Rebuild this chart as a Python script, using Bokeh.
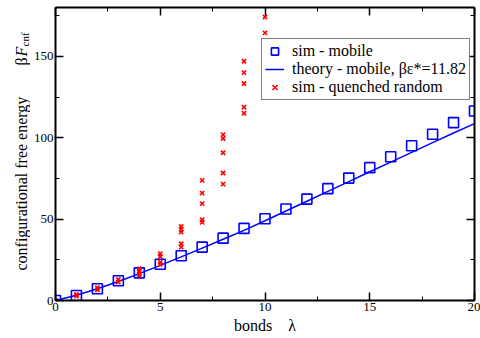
import math
from bokeh.plotting import figure
from bokeh.layouts import row
from bokeh.models import (Range1d, LinearAxis, SingleIntervalTicker, Legend,
                          LegendItem)
from bokeh.core.properties import value
from bokeh.embed import file_html
from bokeh.resources import INLINE

# ---- data ----
bonds = list(range(21))
sim_mobile = [0, 3.1, 7.2, 12.1, 17.0, 22.3, 27.5, 32.8, 38.3, 44.3, 50.2,
              56.2, 62.3, 68.7, 75.2, 81.6, 88.3, 95.1, 102.1, 109.3, 116.4]
theory_mobile = [0, 3.2, 7.2, 11.7, 16.5, 21.6, 26.8, 32.2, 37.6, 43.1, 49.0,
                 55.0, 61.0, 67.0, 73.0, 79.1, 85.0, 91.0, 97.0, 102.9, 108.7]
quenched_bonds = [0, 1, 1, 2, 2, 3, 3, 4, 4, 4, 4, 5, 5, 5, 5,
                  6, 6, 6, 6, 6, 7, 7, 7, 7, 7, 8, 8, 8, 8, 8,
                  9, 9, 9, 9, 9, 10, 10]
quenched_energy = [0, 3.7, 2.7, 7.8, 6.6, 12.9, 11.3, 19.5, 18.0, 16.4, 15.4,
                   28.7, 27.0, 23.6, 22.1,
                   45.5, 43.7, 42.0, 34.9, 32.8,
                   73.8, 66.0, 59.5, 49.6, 48.0,
                   101.9, 99.5, 90.8, 78.3, 71.5,
                   147.0, 140.0, 133.3, 118.7, 115.0,
                   174.2, 164.4]

x_ticks_interval = 5
y_ticks_interval = 50

FONT = "Liberation Serif"
H = 338
LEFT_W = 30

# ---------------- main plot ----------------
p = figure(frame_width=419, frame_height=293, output_backend="svg",
           toolbar_location=None, x_range=Range1d(0, 20), y_range=Range1d(0, 180),
           min_border_left=54 - LEFT_W, min_border_right=6, min_border_top=7,
           min_border_bottom=38)
p.background_fill_color = "white"
p.border_fill_color = "white"
p.outline_line_color = None
p.xgrid.visible = False
p.ygrid.visible = False


def style_axis(ax, ticker, labels=True):
    ax.ticker = ticker
    ax.axis_line_width = 2
    ax.axis_line_color = "black"
    ax.major_tick_in = 8
    ax.major_tick_out = 0
    ax.minor_tick_in = 4
    ax.minor_tick_out = 0
    ax.major_tick_line_width = 1.5
    ax.minor_tick_line_width = 1
    ax.major_label_text_font = FONT
    if labels:
        ax.major_label_text_color = "black"
        ax.major_label_text_font_size = "13px"
        ax.major_label_standoff = 2
    else:
        ax.major_label_text_color = None
        ax.major_label_text_font_size = "1px"
        ax.major_label_standoff = 0


style_axis(p.xaxis[0], SingleIntervalTicker(interval=x_ticks_interval, num_minor_ticks=2))
style_axis(p.yaxis[0], SingleIntervalTicker(interval=y_ticks_interval, num_minor_ticks=2))
p.xaxis[0].axis_label = "bonds\u00a0\u00a0\u00a0\u00a0λ"
p.xaxis[0].axis_label_text_font = FONT
p.xaxis[0].axis_label_text_font_style = "normal"
p.xaxis[0].axis_label_text_color = "black"
p.xaxis[0].axis_label_text_font_size = "16px"
p.xaxis[0].axis_label_standoff = 3

top_ax = LinearAxis()
right_ax = LinearAxis()
style_axis(top_ax, SingleIntervalTicker(interval=x_ticks_interval, num_minor_ticks=2), labels=False)
style_axis(right_ax, SingleIntervalTicker(interval=y_ticks_interval, num_minor_ticks=2), labels=False)
p.add_layout(top_ax, "above")
p.add_layout(right_ax, "right")

r_line = p.line(bonds, theory_mobile, line_color="#0000ff", line_width=1.5)
r_sq = p.scatter(bonds, sim_mobile, marker="square", size=10, fill_color=None,
                 line_color="#0000ff", line_width=1.6)
r_x = p.scatter(quenched_bonds, quenched_energy, marker="x", size=6,
                line_color="#ff0000", line_width=1.6)

legend = Legend(items=[
    LegendItem(label="sim - mobile", renderers=[r_sq]),
    LegendItem(label="theory - mobile, βε*=11.82", renderers=[r_line]),
    LegendItem(label="sim - quenched random", renderers=[r_x]),
], location=(206, 200))
legend.label_text_font = FONT
legend.label_text_font_size = "16px"
legend.label_text_color = "black"
legend.label_height = 18
legend.glyph_height = 18
legend.glyph_width = 19
legend.label_standoff = 8
legend.spacing = 0
legend.padding = 3
legend.margin = 0
legend.border_line_color = "black"
legend.border_line_width = 1.5
legend.background_fill_color = "white"
legend.background_fill_alpha = 1.0
p.add_layout(legend)

# ---------------- y-axis title strip (pixel coordinates) ----------------
q = figure(frame_width=LEFT_W, frame_height=H, output_backend="svg",
           toolbar_location=None, x_range=Range1d(0, LEFT_W), y_range=Range1d(0, H),
           min_border=0, x_axis_location=None, y_axis_location=None)
q.outline_line_color = None
q.xgrid.visible = False
q.ygrid.visible = False
q.background_fill_color = "white"
q.border_fill_color = "white"

common = dict(angle=math.pi / 2, text_align="left", text_baseline="alphabetic",
              text_font=value(FONT), text_color="black")
q.text(x=[21], y=[H - 263], text=["configurational free energy"],
       text_font_size=value("16px"), **common)
q.text(x=[21], y=[H - 58], text=["β"], text_font_size=value("16px"), **common)
q.text(x=[21], y=[H - 49], text=["F"], text_font_size=value("16px"),
       text_font_style="italic", **common)
q.text(x=[24], y=[H - 39], text=["cnf"], text_font_size=value("11px"), **common)

layout = row(q, p)
open("out.html", "w").write(file_html(layout, INLINE))
